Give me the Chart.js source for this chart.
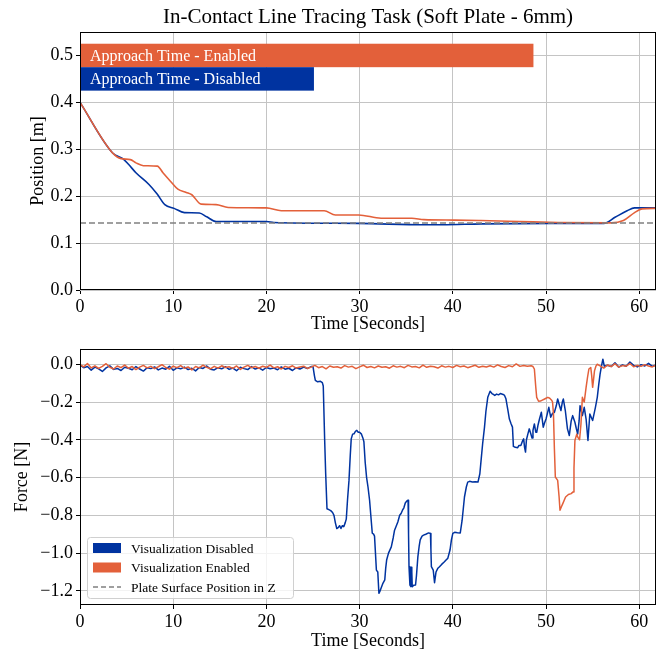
<!DOCTYPE html>
<html>
<head>
<meta charset="utf-8">
<script src="https://cdn.jsdelivr.net/npm/chart.js@4.4.0/dist/chart.umd.min.js"></script>
<style>
body{margin:0;background:#fff;}
#wrap{position:relative;width:661px;height:654px;}
#top{position:absolute;left:0;top:0;}
#bottom{position:absolute;left:0;top:335px;}
</style>
</head>
<body>
<div id="wrap">
<canvas id="top" width="661" height="335"></canvas>
<canvas id="bottom" width="661" height="319"></canvas>
</div>
<script>
var blueColor = "#0033A0";
var orangeColor = "#E3603A";
var plateColor = "#808080";
var gridColor = "#c4c4c4";
var serif = "'Liberation Serif', 'DejaVu Serif', serif";

// ---- position plot data ----
var posDisabledTime = [0,3.5,4.6,5.2,6.0,7.4,8.3,9.1,10.1,11.2,12.8,13.6,14.6,20,20.8,29.9,36.9,38.9,43,51.3,56.2,57.4,58.7,59.5,61.8];
var posDisabled = [0.4,0.292,0.28,0.268,0.25,0.225,0.204,0.182,0.174,0.165,0.164,0.156,0.146,0.146,0.144,0.142,0.139,0.139,0.141,0.142,0.142,0.155,0.169,0.175,0.175];
var posEnabledTime = [0,3.5,4.4,5.4,6.0,6.8,8.3,8.9,9.7,10.5,11.4,12.0,13.0,14.6,15.9,20,21.6,26.2,27.4,29.9,32.3,35.6,36.9,40.2,43,47.2,51.3,57,58.3,59.5,60.3,61.8];
var posEnabled = [0.4,0.292,0.28,0.278,0.271,0.265,0.264,0.25,0.232,0.215,0.208,0.203,0.183,0.182,0.176,0.175,0.169,0.169,0.16,0.16,0.153,0.153,0.15,0.149,0.148,0.146,0.144,0.143,0.148,0.165,0.173,0.174];
var plateZ = 0.143;
var timeEnd = 61.8;

var approachLabels = ["Approach Time - Enabled", "Approach Time - Disabled"];
var approachEnd = [48.65, 25.1];
var approachY = [0.5, 0.45];
var approachHeight = 0.05;
var approachColors = [orangeColor, blueColor];

// ---- force plot data ----
var noiseStep = 0.4;
// disabled: readings every 0.4 s from t=0
var forceDisabledStart = [
  -0.004,-0.018,-0.012,-0.031,-0.015,-0.024,-0.038,-0.019,-0.008,-0.027,
  -0.022,-0.033,-0.016,-0.021,-0.029,-0.012,-0.025,-0.036,-0.018,-0.023,
  -0.014,-0.03,-0.02,-0.026,-0.011,-0.032,-0.019,-0.024,-0.015,-0.028,
  -0.021,-0.035,-0.017,-0.022,-0.009,-0.026,-0.03,-0.018,-0.024,-0.013,
  -0.027,-0.02,-0.034,-0.016,-0.023,-0.028,-0.012,-0.025,-0.019,-0.031,
  -0.017,-0.024,-0.02,-0.029,-0.014,-0.026,-0.021,-0.033,-0.018,-0.025,
  -0.015,-0.022,-0.012];
var forceDisabledEvent = [
  [25.0,-0.012],[25.15,-0.06],[25.25,-0.085],[25.5,-0.093],[25.8,-0.09],[26.0,-0.097],[26.1,-0.115],[26.25,-0.40],[26.36,-0.58],[26.5,-0.765],
  [26.7,-0.77],[26.9,-0.775],[27.1,-0.785],[27.25,-0.80],[27.4,-0.84],[27.55,-0.87],[27.7,-0.865],[27.85,-0.855],[28.0,-0.87],[28.15,-0.855],
  [28.3,-0.86],[28.45,-0.84],[28.57,-0.82],[28.7,-0.72],[28.86,-0.615],[29.0,-0.48],[29.1,-0.395],[29.25,-0.37],[29.4,-0.368],[29.55,-0.355],
  [29.7,-0.35],[29.85,-0.36],[30.0,-0.36],[30.2,-0.37],[30.35,-0.39],[30.46,-0.41],[30.6,-0.52],[30.75,-0.6],[30.9,-0.65],[31.07,-0.72],
  [31.25,-0.83],[31.36,-0.895],[31.5,-0.9],[31.6,-0.91],[31.8,-1.09],[31.95,-1.1],[32.07,-1.213],[32.2,-1.2],[32.3,-1.186],[32.5,-1.16],
  [32.7,-1.142],[32.8,-1.08],[32.9,-1.037],[33.1,-1.0],[33.4,-0.967],[33.6,-0.92],[33.75,-0.879],[33.9,-0.86],[34.1,-0.835],[34.3,-0.80],
  [34.45,-0.79],[34.6,-0.773],[34.75,-0.76],[34.9,-0.735],[35.05,-0.725],[35.2,-0.72],[35.25,-0.9],[35.3,-1.072],[35.4,-1.17],[35.5,-1.178],
  [35.55,-1.075],[35.6,-1.1],[35.65,-1.178],[35.8,-1.17],[36.0,-1.169],[36.1,-1.12],[36.25,-1.02],[36.4,-0.96],[36.5,-0.93],[36.7,-0.91],
  [36.86,-0.905],[37.1,-0.9],[37.4,-0.893],[37.6,-0.896],[37.65,-0.98],[37.7,-1.072],[37.9,-1.09],[38.04,-1.157],[38.2,-1.1],[38.4,-1.08],
  [38.57,-1.072],[38.8,-1.06],[39.1,-1.046],[39.3,-1.035],[39.46,-1.028],[39.7,-0.984],[39.85,-0.93],[40.0,-0.896],[40.2,-0.89],[40.5,-0.892],
  [40.8,-0.893],[41.0,-0.826],[41.25,-0.703],[41.45,-0.65],[41.6,-0.624],[41.8,-0.62],[42.1,-0.624],[42.4,-0.622],[42.7,-0.624],[42.9,-0.58],
  [43.05,-0.5],[43.2,-0.421],[43.4,-0.333],[43.55,-0.25],[43.75,-0.175],[44.0,-0.143],[44.2,-0.155],[44.35,-0.16],[44.5,-0.165],[44.7,-0.158],
  [44.9,-0.162],[45.1,-0.155],[45.4,-0.16],[45.55,-0.165],[45.7,-0.183],[45.9,-0.24],[46.07,-0.29],[46.25,-0.315],[46.4,-0.333],[46.5,-0.435],
  [46.7,-0.44],[46.96,-0.442],[47.1,-0.43],[47.3,-0.43],[47.45,-0.41],[47.6,-0.395],[47.7,-0.44],[47.8,-0.465],[47.9,-0.40],[48.05,-0.37],
  [48.2,-0.342],[48.35,-0.365],[48.5,-0.39],[48.6,-0.35],[48.75,-0.316],[48.9,-0.36],[49.0,-0.36],[49.15,-0.32],[49.3,-0.29],[49.5,-0.254],
  [49.7,-0.333],[49.85,-0.31],[50.0,-0.29],[50.15,-0.26],[50.3,-0.228],[50.5,-0.28],[50.7,-0.26],[50.9,-0.254],[51.1,-0.22],[51.25,-0.184],
  [51.45,-0.22],[51.6,-0.245],[51.75,-0.2],[51.86,-0.184],[52.07,-0.245],[52.3,-0.342],[52.5,-0.377],[52.7,-0.3],[52.86,-0.272],[53.1,-0.307],
  [53.25,-0.34],[53.4,-0.369],[53.55,-0.3],[53.65,-0.219],[53.9,-0.272],[54.1,-0.228],[54.3,-0.29],[54.5,-0.404],[54.7,-0.263],[55.0,-0.298],
  [55.3,-0.228],[55.5,-0.175],[55.65,-0.11],[55.8,-0.052],[55.95,-0.01],[56.1,0.027],[56.25,-0.01]];
var forceDisabledEndStart = 56.6;
var forceDisabledEnd = [-0.005,-0.012,0.008,-0.015,-0.003,-0.01,0.012,-0.006,-0.014,-0.002,-0.009,0.005,-0.011,-0.004];

// enabled: readings every 0.4 s from t=0
var forceEnabledStart = [
  -0.002,-0.014,0.004,-0.019,-0.008,-0.022,-0.011,0.003,-0.016,-0.025,
  -0.009,-0.018,-0.004,-0.021,-0.012,-0.028,-0.015,-0.006,-0.019,-0.011,
  -0.023,-0.013,-0.002,-0.017,-0.026,-0.01,-0.018,-0.007,-0.021,-0.014,
  -0.03,-0.012,-0.019,-0.005,-0.016,-0.024,-0.011,-0.02,-0.008,-0.017,
  -0.013,-0.022,-0.009,-0.027,-0.015,-0.006,-0.018,-0.012,-0.021,-0.01,
  -0.016,-0.004,-0.019,-0.013,-0.025,-0.011,-0.017,-0.008,-0.02,-0.014,
  -0.01,-0.022,-0.015,-0.006,-0.018,-0.012,-0.024,-0.009,-0.016,-0.013,
  -0.02,-0.007,-0.015,-0.011,-0.023,-0.014,-0.005,-0.017,-0.012,-0.019,
  -0.009,-0.016,-0.013,-0.021,-0.008,-0.015,-0.011,-0.018,-0.006,-0.014,
  -0.012,-0.019,-0.004,-0.016,-0.01,-0.013,-0.02,-0.008,-0.015,-0.011,
  -0.017,-0.006,-0.013,-0.009,-0.018,-0.012,-0.005,-0.016,-0.01,-0.014,
  -0.008,-0.015,-0.003,-0.012,-0.017,-0.007,-0.013,0.002,-0.011,-0.006,
  -0.01];
var forceEnabledEvent = [
  [48.4,-0.008],[48.6,-0.012],[48.75,-0.025],[48.9,-0.12],[49.0,-0.175],[49.2,-0.196],[49.4,-0.195],[49.6,-0.19],[49.8,-0.185],[50.0,-0.18],
  [50.2,-0.175],[50.4,-0.18],[50.6,-0.19],[50.7,-0.2],[50.8,-0.263],[50.9,-0.45],[51.0,-0.597],[51.25,-0.615],[51.4,-0.7],[51.5,-0.773],
  [51.65,-0.755],[51.8,-0.738],[52.1,-0.703],[52.4,-0.69],[52.7,-0.685],[52.9,-0.676],[53.0,-0.55],[53.1,-0.404],[53.3,-0.37],[53.45,-0.39],
  [53.6,-0.40],[53.75,-0.316],[53.9,-0.175],[54.0,-0.19],[54.1,-0.2],[54.3,-0.122],[54.45,-0.07],[54.6,-0.025],[54.8,-0.017],[54.9,-0.06],
  [55.0,-0.122],[55.1,-0.08],[55.2,-0.035],[55.35,-0.01],[55.5,0.0]];
var forceEnabledEndStart = 55.8;
var forceEnabledEnd = [-0.008,-0.02,-0.004,-0.012,0.003,-0.015,-0.007,-0.01,0.004,-0.013,-0.006,-0.011,-0.002,-0.009,-0.014,-0.005];

var legendLabels = ["Visualization Disabled", "Visualization Enabled", "Plate Surface Position in Z"];
var legendColors = [blueColor, orangeColor, plateColor];
var legendKinds = ["patch", "patch", "dash"];

function toPoints(xs, ys) {
  var out = [];
  for (var i = 0; i < xs.length; i++) out.push({x: xs[i], y: ys[i]});
  return out;
}
function forceSeries(start, event, endStart, end) {
  var out = [];
  for (var i = 0; i < start.length; i++) out.push({x: i * noiseStep, y: start[i]});
  for (var j = 0; j < event.length; j++) out.push({x: event[j][0], y: event[j][1]});
  for (var k = 0; k < end.length; k++) out.push({x: endStart + k * noiseStep, y: end[k]});
  return out;
}

Chart.defaults.font.family = serif;
Chart.defaults.color = "#000";

var framePlugin = {
  id: "frame",
  afterDraw: function(chart) {
    var a = chart.chartArea, ctx = chart.ctx;
    ctx.save();
    ctx.strokeStyle = "#000";
    ctx.lineWidth = 1;
    ctx.strokeRect(Math.round(a.left) + 0.5, Math.round(a.top) + 0.5, Math.round(a.right - a.left) - 1, Math.round(a.bottom - a.top) - 1);
    ctx.restore();
  }
};

var approachPlugin = {
  id: "approach",
  beforeDatasetsDraw: function(chart) {
    var ctx = chart.ctx, xs = chart.scales.x, ys = chart.scales.y;
    ctx.save();
    for (var i = 0; i < approachLabels.length; i++) {
      var x0 = xs.getPixelForValue(0), x1 = xs.getPixelForValue(approachEnd[i]);
      var yTop = ys.getPixelForValue(approachY[i] + approachHeight / 2);
      var yBot = ys.getPixelForValue(approachY[i] - approachHeight / 2);
      ctx.fillStyle = approachColors[i];
      ctx.fillRect(x0, yTop, x1 - x0, yBot - yTop);
      ctx.fillStyle = "#fff";
      ctx.font = "16px " + serif;
      ctx.textBaseline = "middle";
      ctx.fillText(approachLabels[i], x0 + 10, (yTop + yBot) / 2 + 1);
    }
    ctx.restore();
  }
};

var legendPlugin = {
  id: "boxLegend",
  afterDraw: function(chart) {
    var a = chart.chartArea, ctx = chart.ctx;
    var w = 206, h = 61;
    var left = a.left + 7, top = a.bottom - 7 - h;
    ctx.save();
    ctx.fillStyle = "rgba(255,255,255,0.8)";
    ctx.strokeStyle = "#d0d0d0";
    ctx.lineWidth = 1;
    ctx.beginPath();
    ctx.roundRect(left + 0.5, top + 0.5, w, h, 3);
    ctx.fill();
    ctx.stroke();
    ctx.font = "13.5px " + serif;
    ctx.textBaseline = "middle";
    for (var i = 0; i < legendLabels.length; i++) {
      var cy = top + 11 + i * 19.5;
      if (legendKinds[i] === "patch") {
        ctx.fillStyle = legendColors[i];
        ctx.fillRect(left + 6, cy - 5, 28, 10);
      } else {
        ctx.strokeStyle = legendColors[i];
        ctx.lineWidth = 1.5;
        ctx.setLineDash([5, 3]);
        ctx.beginPath();
        ctx.moveTo(left + 6, cy);
        ctx.lineTo(left + 34, cy);
        ctx.stroke();
        ctx.setLineDash([]);
      }
      ctx.fillStyle = "#000";
      ctx.fillText(legendLabels[i], left + 44, cy + 1);
    }
    ctx.restore();
  }
};

function xScale(titlePadBottom, height) {
  return {
    type: "linear", min: 0, max: timeEnd,
    afterFit: function(s) { s.height = height; },
    grid: {color: gridColor, lineWidth: 1, drawTicks: true, tickLength: 4, tickColor: "#000"},
    border: {display: false},
    ticks: {stepSize: 10, includeBounds: false, padding: 2, font: {size: 18}, color: "#000", maxRotation: 0},
    title: {display: true, text: "Time [Seconds]", font: {size: 18}, padding: {top: 0, bottom: titlePadBottom}, color: "#000"}
  };
}
function yScale(min, max, title, titlePad, minus) {
  return {
    min: min, max: max,
    afterFit: function(s) { s.width = 80; },
    grid: {color: gridColor, lineWidth: 1, drawTicks: true, tickLength: 4, tickColor: "#000"},
    border: {display: false},
    ticks: {
      stepSize: 0.2, includeBounds: false, padding: 3, font: {size: 18}, color: "#000",
      callback: function(v) {
        var s = Number(v).toFixed(1);
        if (s === "-0.0") s = "0.0";
        return minus ? s.replace("-", "\u2212") : s;
      }
    },
    title: {display: true, text: title, font: {size: 18}, padding: {top: titlePad, bottom: 0}, color: "#000"}
  };
}

var topY = yScale(0, 0.55, "Position [m]", 27, false);
topY.ticks.stepSize = 0.1;

new Chart(document.getElementById("top"), {
  type: "line",
  data: {
    datasets: [
      {label: "Plate Surface Position in Z", data: toPoints([0, timeEnd], [plateZ, plateZ]), borderColor: plateColor, borderWidth: 1.5, borderDash: [6, 3], pointRadius: 0},
      {label: "Visualization Enabled", data: toPoints(posEnabledTime, posEnabled), borderColor: orangeColor, borderWidth: 1.6, pointRadius: 0, cubicInterpolationMode: "monotone"},
      {label: "Visualization Disabled", data: toPoints(posDisabledTime, posDisabled), borderColor: blueColor, borderWidth: 1.6, pointRadius: 0, cubicInterpolationMode: "monotone"}
    ]
  },
  options: {
    responsive: false,
    animation: false,
    layout: {padding: {left: 0, right: 5, top: 0, bottom: 0}},
    plugins: {
      legend: {display: false},
      tooltip: {enabled: false},
      title: {display: true, fullSize: false, text: "In-Contact Line Tracing Task (Soft Plate - 6mm)", font: {size: 21, weight: "normal"}, color: "#000", padding: {top: 4.5, bottom: 2.3}}
    },
    scales: {x: xScale(0, 45), y: topY}
  },
  plugins: [approachPlugin, framePlugin]
});

new Chart(document.getElementById("bottom"), {
  type: "line",
  data: {
    datasets: [
      {label: "Visualization Enabled", data: forceSeries(forceEnabledStart, forceEnabledEvent, forceEnabledEndStart, forceEnabledEnd), borderColor: orangeColor, borderWidth: 1.5, pointRadius: 0, borderJoinStyle: "round"},
      {label: "Visualization Disabled", data: forceSeries(forceDisabledStart, forceDisabledEvent, forceDisabledEndStart, forceDisabledEnd), borderColor: blueColor, borderWidth: 1.5, pointRadius: 0, borderJoinStyle: "round"}
    ]
  },
  options: {
    responsive: false,
    animation: false,
    layout: {padding: {left: 0, right: 5, top: 13, bottom: 0}},
    plugins: {legend: {display: false}, tooltip: {enabled: false}},
    scales: {x: xScale(2, 49), y: yScale(-1.275, 0.082, "Force [N]", 11, true)}
  },
  plugins: [legendPlugin, framePlugin]
});
</script>
</body>
</html>
